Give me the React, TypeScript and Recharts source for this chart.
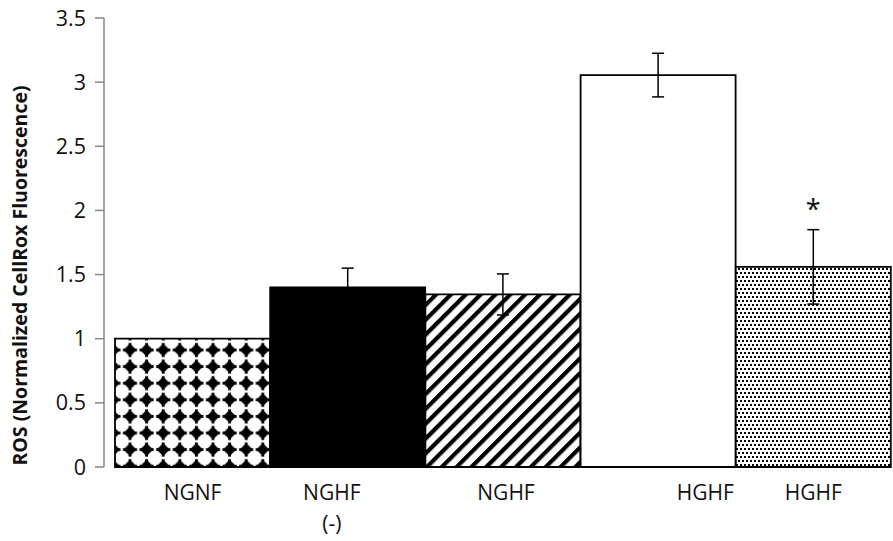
import { BarChart, Bar, XAxis, YAxis, ErrorBar, Cell, LabelList, Label } from 'recharts';

const groups = ['NGNF', 'NGHF\n(-)', 'NGHF', 'HGHF', 'HGHF'];
const ros = [1.0, 1.4, 1.345, 3.055, 1.56];
const rosErr = [0, 0.15, 0.16, 0.17, 0.29];
const marks = ['', '', '', '', '*'];
const yTicks = [0, 0.5, 1, 1.5, 2, 2.5, 3, 3.5];

// bar fills, in group order
const fills = ['url(#diamonds)', '#000', 'url(#hatch)', '#fff', 'url(#dots)'];
// the category labels in the original sit a little off-centre
const labelShift = [0, -16, 3, 47, 0];

const font = '"Open Sans", sans-serif';

const data = groups.map((g, i) => ({ group: g, ros: ros[i], err: rosErr[i], mark: marks[i] }));

function GroupTick(props: any) {
  const { x, y, payload, index } = props;
  const lines = String(payload.value).split('\n');
  const cx = x + (labelShift[index] || 0);
  return (
    <text x={cx} y={y} textAnchor="middle" fill="#111" fontSize={21} fontFamily={font}>
      {lines.map((l, k) => (
        <tspan key={k} x={cx} dy={k === 0 ? 33 : 31}>
          {l}
        </tspan>
      ))}
    </text>
  );
}

function YTitle(props: any) {
  const vb = props.viewBox || {};
  const cx = (vb.x || 0) + 19;
  const cy = (vb.y || 0) + (vb.height || 0) / 2 + 33;
  return (
    <text
      x={cx}
      y={cy}
      transform={`rotate(-90, ${cx}, ${cy})`}
      textAnchor="middle"
      dominantBaseline="central"
      fontSize={19.5}
      fontWeight="bold"
      fontFamily={font}
      fill="#111"
    >
      ROS (Normalized CellRox Fluorescence)
    </text>
  );
}

function Star(props: any) {
  const { x, y, width, value } = props;
  if (!value) return null;
  return (
    <text x={x + width / 2} y={y - 48} textAnchor="middle" fontSize={27} fontFamily={font} fill="#111">
      {value}
    </text>
  );
}

export default function App() {
  return (
    <div style={{ position: 'absolute', left: 0, top: 0, background: '#fff' }}>
      <BarChart
        width={893}
        height={541}
        data={data}
        margin={{ top: 18, right: 2, bottom: 0, left: 0 }}
        barCategoryGap={0}
      >
        <defs>
          <pattern id="diamonds" width={16.6} height={16.6} patternUnits="userSpaceOnUse" x={121.7} y={341.7}>
            <rect width={16.6} height={16.6} fill="#fff" />
            <polygon points="8.3,1.8 14.8,8.3 8.3,14.8 1.8,8.3" fill="#000" />
            <rect x={6.8} y={1.3} width={3} height={14} fill="#000" />
            <rect x={1.3} y={6.8} width={14} height={3} fill="#000" />
          </pattern>
          <pattern id="hatch" width={10.5} height={10.5} patternUnits="userSpaceOnUse" patternTransform="rotate(45)">
            <rect width={10.5} height={10.5} fill="#fff" />
            <rect width={4.2} height={10.5} fill="#000" />
          </pattern>
          <pattern id="dots" width={4} height={8} patternUnits="userSpaceOnUse">
            <rect width={4} height={8} fill="#fff" />
            <rect x={0} y={0} width={2} height={2} fill="#000" />
            <rect x={2} y={4} width={2} height={2} fill="#000" />
          </pattern>
        </defs>
        <YAxis
          width={104}
          domain={[0, 3.5]}
          ticks={yTicks}
          interval={0}
          tick={{ fill: '#111', fontSize: 21.5, fontFamily: font }}
          axisLine={{ stroke: '#868686', strokeWidth: 1.5 }}
          tickLine={{ stroke: '#868686', strokeWidth: 1.5 }}
          tickSize={9}
          tickMargin={9}
          label={<Label content={YTitle} />}
        />
        <XAxis
          dataKey="group"
          height={74}
          padding={{ left: 11, right: 0 }}
          axisLine={false}
          tickLine={false}
          tickSize={0}
          tickMargin={0}
          interval={0}
          tick={<GroupTick />}
        />
        <Bar dataKey="ros" stroke="#000" strokeWidth={1.8} isAnimationActive={false}>
          {data.map((d, i) => (
            <Cell key={d.group + i} fill={fills[i]} />
          ))}
          <ErrorBar dataKey="err" width={6} stroke="#000" strokeWidth={1.5} direction="y" />
          <LabelList dataKey="mark" content={Star} />
        </Bar>
      </BarChart>
    </div>
  );
}
